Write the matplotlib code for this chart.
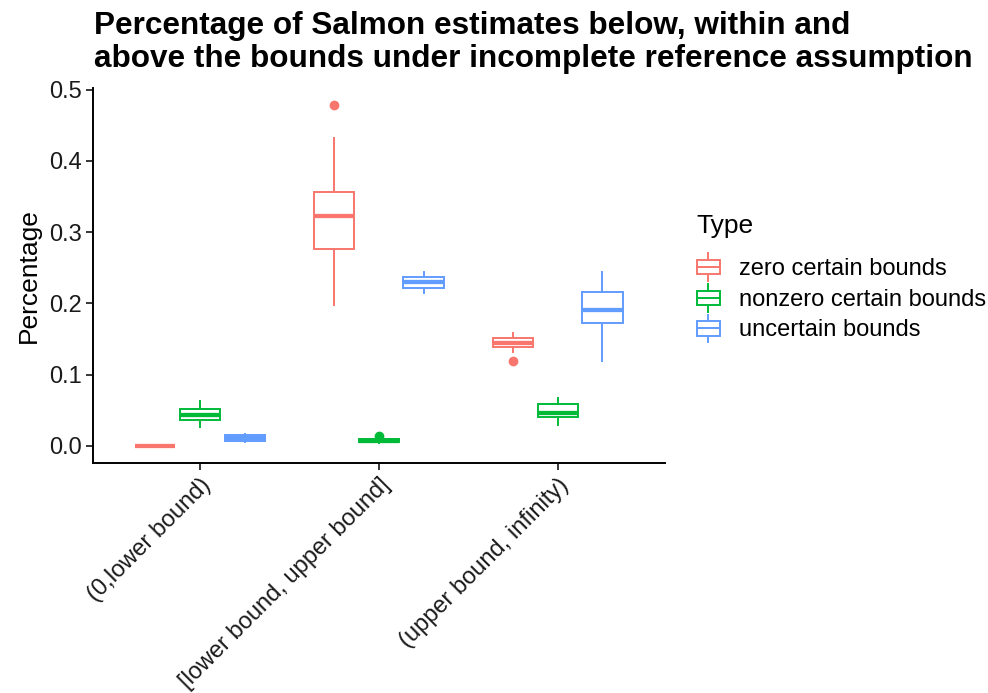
import matplotlib
matplotlib.use("Agg")
import matplotlib.pyplot as plt
from matplotlib.patches import Rectangle
from matplotlib.lines import Line2D
from matplotlib.legend_handler import HandlerBase

plt.rcParams['font.family'] = ['Liberation Sans', 'DejaVu Sans']

categories = ["(0,lower bound)", "[lower bound, upper bound]", "(upper bound, infinity)"]
types = ["zero certain bounds", "nonzero certain bounds", "uncertain bounds"]
colors = ["#F8766D", "#00BA38", "#619CFF"]

# box summaries, one value per category
zero_med = [0.0, 0.3226, 0.1447]
zero_q1 = [0.0, 0.2758, 0.1382]
zero_q3 = [0.0, 0.3559, 0.1513]
zero_lo = [0.0, 0.1972, 0.1312]
zero_hi = [0.0, 0.4317, 0.1579]
zero_out = [[], [0.4785], [0.1190]]

nonzero_med = [0.0435, 0.0070, 0.0455]
nonzero_q1 = [0.0361, 0.0050, 0.0399]
nonzero_q3 = [0.0511, 0.0095, 0.0581]
nonzero_lo = [0.0267, 0.0040, 0.0291]
nonzero_hi = [0.0628, 0.0110, 0.0666]
nonzero_out = [[], [0.0136], []]

uncertain_med = [0.0108, 0.2295, 0.1906]
uncertain_q1 = [0.0066, 0.2219, 0.1723]
uncertain_q3 = [0.0150, 0.2369, 0.2159]
uncertain_lo = [0.0056, 0.2140, 0.1190]
uncertain_hi = [0.0164, 0.2440, 0.2440]
uncertain_out = [[], [], []]

series = [
    (zero_med, zero_q1, zero_q3, zero_lo, zero_hi, zero_out),
    (nonzero_med, nonzero_q1, nonzero_q3, nonzero_lo, nonzero_hi, nonzero_out),
    (uncertain_med, uncertain_q1, uncertain_q3, uncertain_lo, uncertain_hi, uncertain_out),
]

fig = plt.figure(figsize=(9.88, 6.93), dpi=100)
ax = fig.add_axes([0.0937, 0.3323, 0.5794, 0.5407])

dodge = 0.25
box_w = 0.225
box_lw = 1.4

for k, (med, q1, q3, lo, hi, out) in enumerate(series):
    stats = []
    for i in range(len(categories)):
        stats.append(dict(med=med[i], q1=q1[i], q3=q3[i], whislo=lo[i],
                          whishi=hi[i], fliers=out[i]))
    pos = [i + 1 + (k - 1) * dodge for i in range(len(categories))]
    c = colors[k]
    ax.bxp(stats, positions=pos, widths=box_w, showcaps=False,
           patch_artist=True,
           boxprops=dict(facecolor="white", edgecolor=c, linewidth=box_lw),
           whiskerprops=dict(color=c, linewidth=box_lw),
           medianprops=dict(color=c, linewidth=box_lw * 2.2, solid_capstyle="butt"),
           flierprops=dict(marker="o", markerfacecolor=c, markeredgecolor=c,
                           markersize=6, linestyle="none"))

ax.set_xlim(0.4, 3.6)
ax.set_ylim(-0.0239, 0.5024)
ax.set_xticks([1, 2, 3])
ax.set_xticklabels(categories, rotation=45, ha="right", va="top",
                   rotation_mode="anchor", fontsize=17, color="#1a1a1a")
ax.set_yticks([0.0, 0.1, 0.2, 0.3, 0.4, 0.5])
ax.set_yticklabels(["0.0", "0.1", "0.2", "0.3", "0.4", "0.5"], fontsize=17,
                   color="#1a1a1a")
ax.tick_params(axis="both", length=5, width=1.1, color="black", pad=3)
for s in ["top", "right"]:
    ax.spines[s].set_visible(False)
for s in ["left", "bottom"]:
    ax.spines[s].set_linewidth(1.4)
ax.set_ylabel("Percentage", fontsize=19, labelpad=6)
ax.set_xlabel("")


class BoxKey(HandlerBase):
    def create_artists(self, legend, orig_handle, xdescent, ydescent, width,
                       height, fontsize, trans):
        c = orig_handle.get_color()
        cx = width / 2 - xdescent
        bh = height * 0.58
        by = height / 2 - ydescent - bh / 2
        bx = -xdescent + width * 0.04
        bw = width * 0.92
        wl = Line2D([cx, cx], [-ydescent - height * 0.05, height - ydescent + height * 0.05],
                    color=c, linewidth=box_lw, transform=trans)
        rect = Rectangle((bx, by), bw, bh, facecolor="white", edgecolor=c,
                         linewidth=box_lw, transform=trans)
        ml = Line2D([bx, bx + bw], [height / 2 - ydescent] * 2, color=c,
                    linewidth=box_lw, transform=trans)
        return [wl, rect, ml]


handles = [Line2D([], [], color=c) for c in colors]
leg = fig.legend(handles, types, handler_map={Line2D: BoxKey()},
                 loc="upper left", bbox_to_anchor=(696 / 988, 1 - 214 / 693),
                 frameon=False, fontsize=17, title="Type", title_fontsize=19,
                 handlelength=1.05, handleheight=1.25, labelspacing=0.22,
                 handletextpad=0.75, borderaxespad=0, borderpad=0,
                 alignment="left")
leg._legend_box.sep = 12

fig.text(94 / 988, 1 - 11 / 693,
         "Percentage of Salmon estimates below, within and\n"
         "above the bounds under incomplete reference assumption",
         fontsize=22.7, fontweight="bold", ha="left", va="top", linespacing=1.12)

fig.savefig("out.png", dpi=100)
